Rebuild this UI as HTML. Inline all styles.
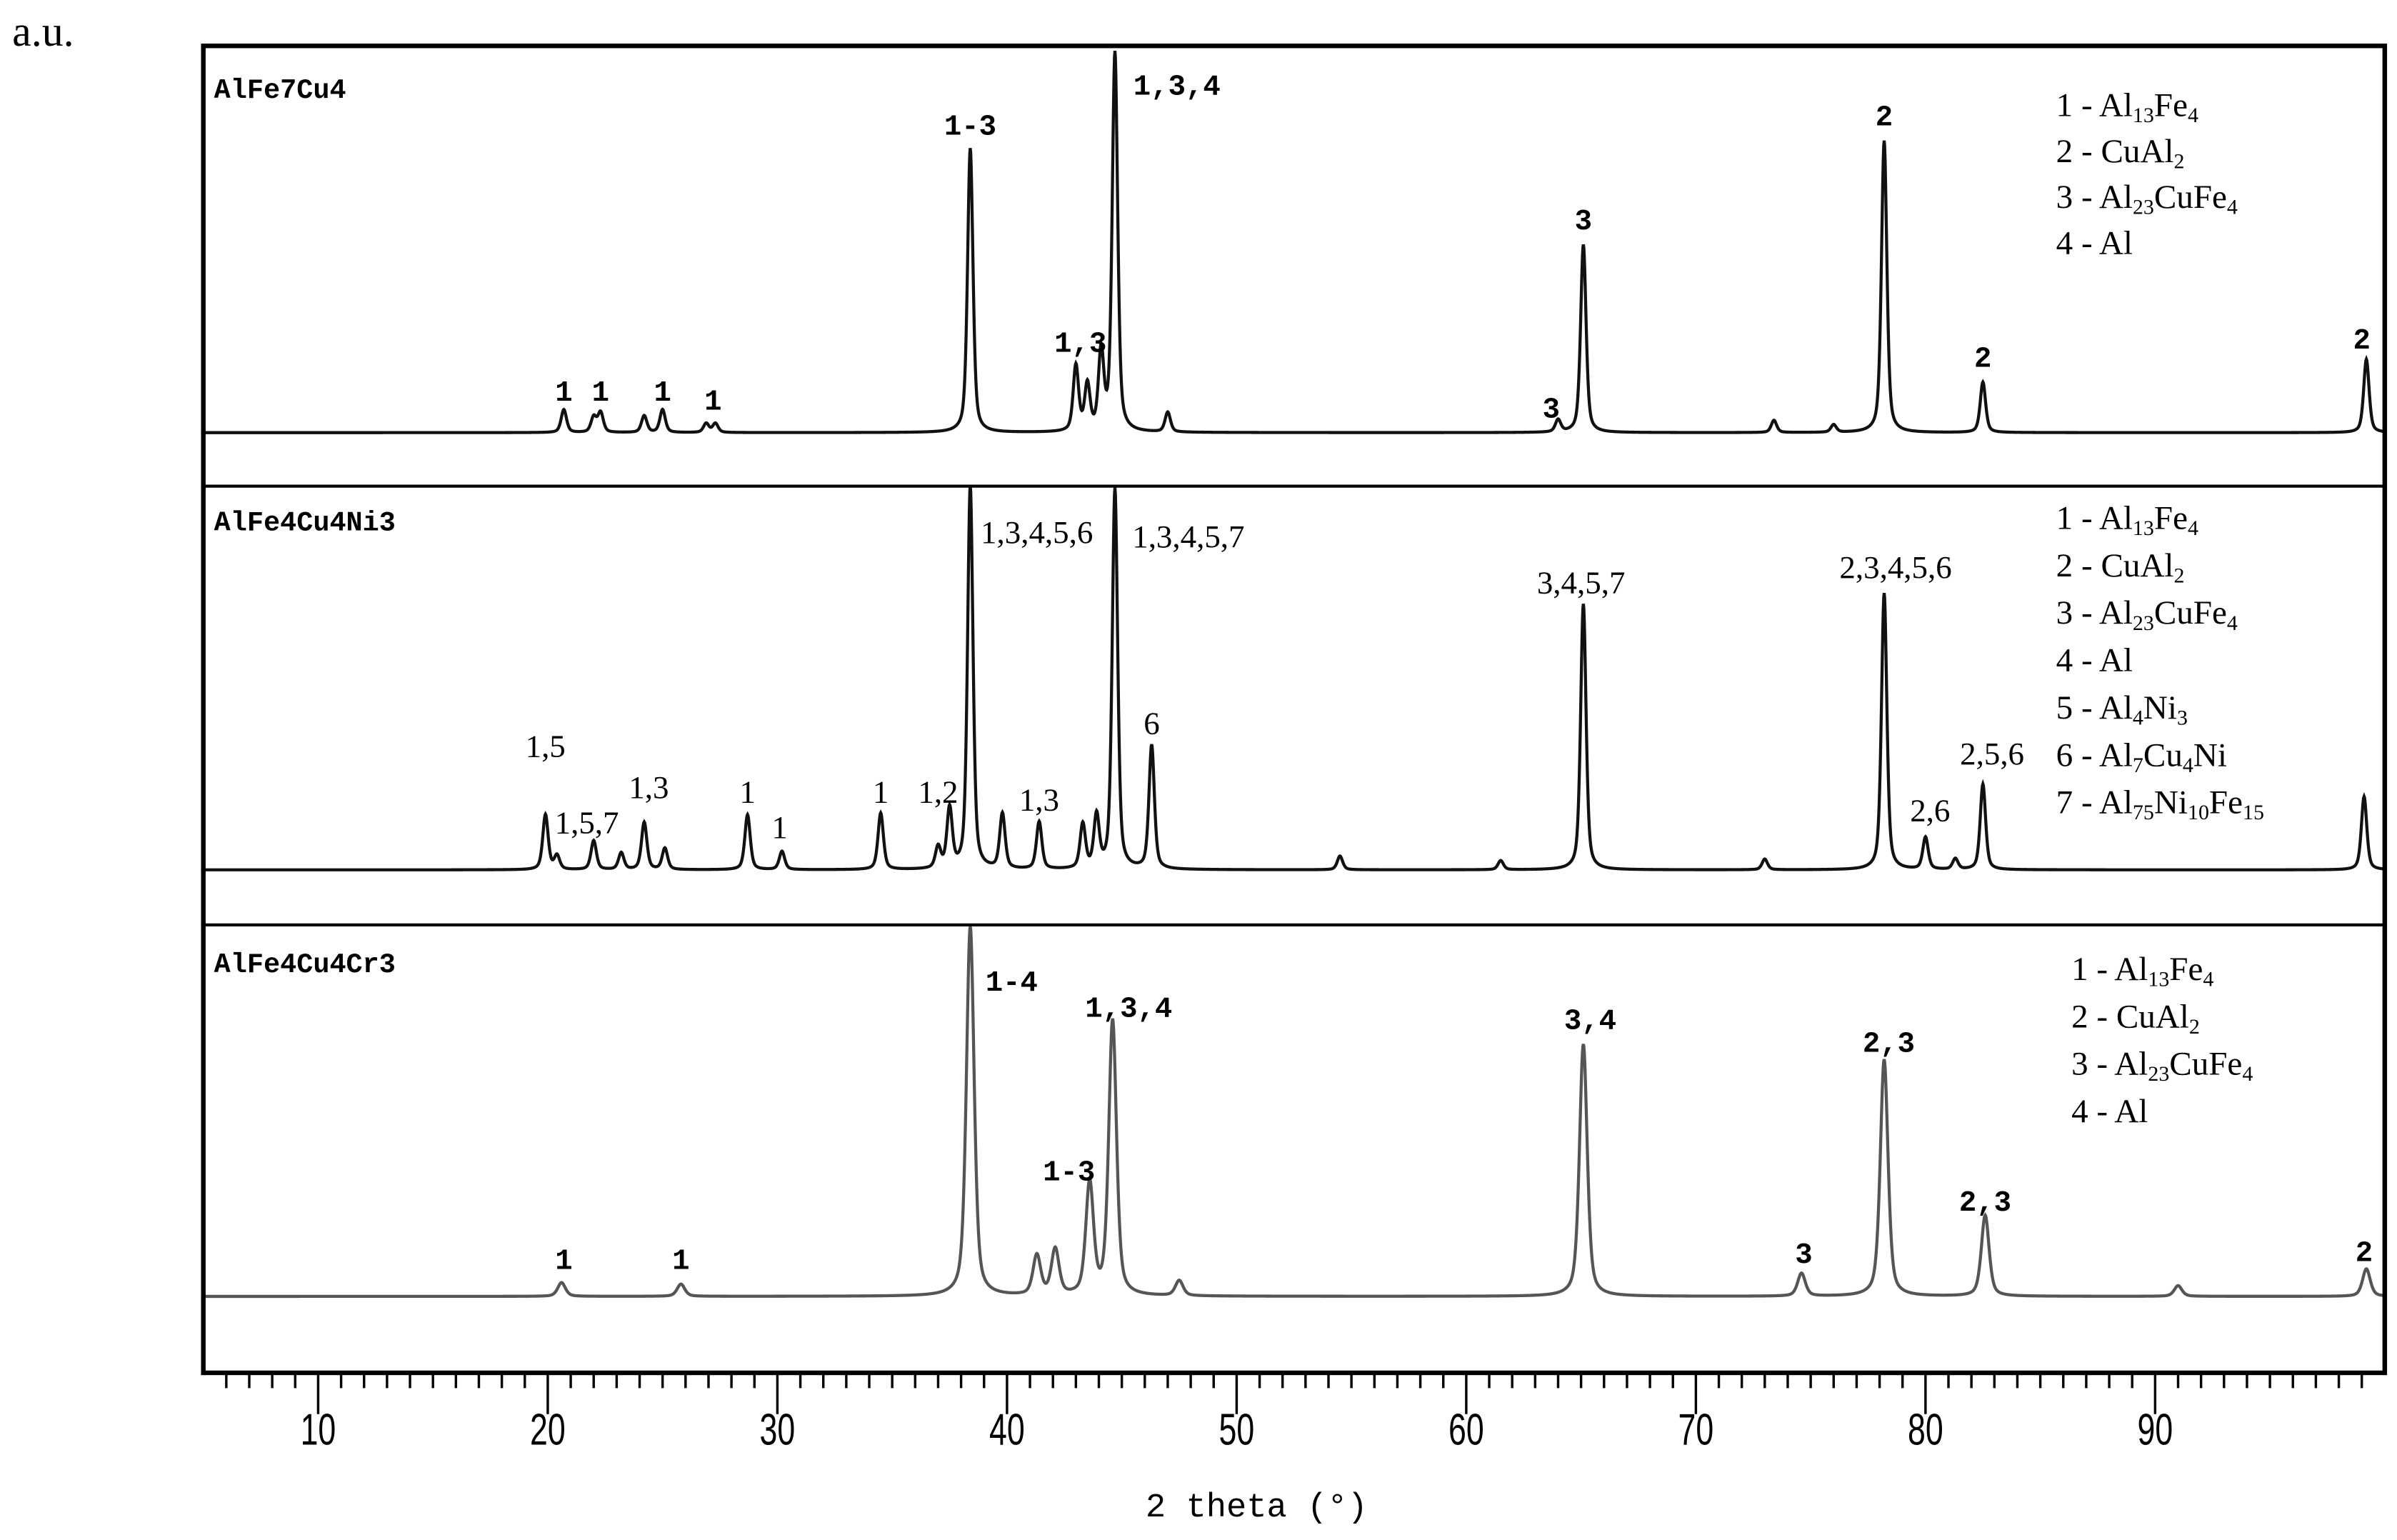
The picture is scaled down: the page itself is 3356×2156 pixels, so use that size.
<!DOCTYPE html>
<html><head><meta charset="utf-8"><style>
html,body{margin:0;padding:0;background:#fff;}
svg{display:block;}
.mono{font-family:"Liberation Mono",monospace;font-weight:bold;}
.ser{font-family:"Liberation Serif",serif;}
.tick{font-family:"Liberation Sans",sans-serif;}
</style></head><body>
<svg id="chart" width="3356" height="2156" viewBox="0 0 1568 1007.35" xmlns="http://www.w3.org/2000/svg">
<rect x="0" y="0" width="1568" height="1008" fill="#fff"/>
<text class="ser" x="8" y="30" font-size="28">a.u.</text>
<g id="plot"></g>
<text x="822" y="992" font-size="22" text-anchor="middle" font-family="Liberation Mono, monospace">2 theta (°)</text>
</svg>
<script>
// ---- data ----
const xTicks = [10,20,30,40,50,60,70,80,90];
const p1Pos = [20.7,22.0,22.3,24.2,25.0,26.9,27.3,38.4,43.0,43.5,44.1,44.7,47.0,64.0,65.1,73.4,76.0,78.2,82.5,99.2];
const p1Int = [15,10,13,11,15,6,6,186,43,30,51,248,13,8,123,8,5,191,33,48];
const p2Pos = [19.9,20.4,22.0,23.2,24.2,25.1,28.7,30.2,34.5,37.0,37.5,38.4,39.8,41.4,43.3,43.9,44.7,46.3,54.5,61.5,65.1,73.0,78.2,80.0,81.3,82.5,99.1];
const p2Int = [36,9,19,11,31,14,36,12,37,14,39,251,36,31,29,34,249,81,9,6,174,7,181,21,7,56,48];
const p3Pos = [20.6,25.8,38.4,41.3,42.1,43.6,44.6,47.5,65.1,74.6,78.2,82.6,91.0,99.2];
const p3Int = [9,8,242,26,30,73,180,10,165,15,155,53,7,18];
const ann1Txt = ["1","1","1","1","1-3","1,3","1,3,4","3","3","2","2","2"];
const ann1Pos = [20.7,22.3,25.0,27.2,38.4,43.2,47.4,63.7,65.1,78.2,82.5,99.0];
const ann1Lvl = [21,21,21,15,195,53,221,10,133,201,43,55];
const ann2Txt = ["1,5","1,5,7","1,3","1","1","1","1,2","1,3","1,3,4,5,6","1,3,4,5,7","6","3,4,5,7","2,3,4,5,6","2,6","2,5,6"];
const ann2Pos = [19.9,21.7,24.4,28.7,30.1,34.5,37.0,41.4,41.3,47.9,46.3,65.0,78.7,80.2,82.9];
const ann2Lvl = [74,24,47,44,21,44,44,39,214,211,89,181,191,32,69];
const ann3Txt = ["1","1","1-4","1,3,4","1-3","3,4","2,3","2,3","3","2"];
const ann3Pos = [20.7,25.8,40.2,45.3,42.7,65.4,78.4,82.6,74.7,99.1];
const ann3Lvl = [18,18,200,183,76,175,160,56,22,23];
const legA = ["1 - Al<tspan font-size='14' dy='4'>13</tspan><tspan dy='-4'>Fe</tspan><tspan font-size='14' dy='4'>4</tspan>","2 - CuAl<tspan font-size='14' dy='4'>2</tspan>","3 - Al<tspan font-size='14' dy='4'>23</tspan><tspan dy='-4'>CuFe</tspan><tspan font-size='14' dy='4'>4</tspan>","4 - Al"];
const legB = legA.concat(["5 - Al<tspan font-size='14' dy='4'>4</tspan><tspan dy='-4'>Ni</tspan><tspan font-size='14' dy='4'>3</tspan>","6 - Al<tspan font-size='14' dy='4'>7</tspan><tspan dy='-4'>Cu</tspan><tspan font-size='14' dy='4'>4</tspan><tspan dy='-4'>Ni</tspan>","7 - Al<tspan font-size='14' dy='4'>75</tspan><tspan dy='-4'>Ni</tspan><tspan font-size='14' dy='4'>10</tspan><tspan dy='-4'>Fe</tspan><tspan font-size='14' dy='4'>15</tspan>"]);
// ---- layout ----
const L=133,R=1560,T=30,B=898;
const X = d => L + (d-5)*(R-L)/95;
const NS="http://www.w3.org/2000/svg";
const g=document.getElementById('plot');
function mk(tag,attrs){const e=document.createElementNS(NS,tag);for(const k in attrs)e.setAttribute(k,attrs[k]);g.appendChild(e);return e;}
function profile(pos,ints,w,d){let s=0;for(let i=0;i<pos.length;i++){const u=(d-pos[i])/w;s+=ints[i]*(0.5/(1+u*u)+0.5*Math.exp(-u*u*0.7));}return s;}
function series(pos,ints,base,w,color,name,sw){
  let dstr="";
  for(let d=5;d<=99.95;d+=0.02){const y=Math.max(base-profile(pos,ints,w,d),base-290);dstr+=(dstr?"L":"M")+X(d).toFixed(2)+","+y.toFixed(2);}
  const p=mk('path',{d:dstr,fill:'none',stroke:color,'stroke-width':sw});
  
  
}
series(p1Pos,p1Int,283,0.14,'#111','series-alfe7cu4',2);
series(p2Pos,p2Int,569,0.14,'#111','series-alfe4cu4ni3',2);
series(p3Pos,p3Int,848,0.2,'#555','series-alfe4cu4cr3',2);
function annot(txt,pos,lvl,base,cls,name,size){
  for(let i=0;i<txt.length;i++){
    const t=mk('text',{x:X(pos[i]),y:base-lvl[i],'text-anchor':'middle','font-size':size,class:cls});
    t.textContent=txt[i];
    
    
  }
}
annot(ann1Txt,ann1Pos,ann1Lvl,283,'mono','peak-label-p1',19);
annot(ann2Txt,ann2Pos,ann2Lvl,569,'ser','peak-label-p2',21);
annot(ann3Txt,ann3Pos,ann3Lvl,848,'mono','peak-label-p3',19);
// frame
mk('rect',{x:L,y:T,width:R-L,height:B-T,fill:'none',stroke:'#000','stroke-width':3});
mk('line',{x1:L,y1:318,x2:R,y2:318,stroke:'#000','stroke-width':2});
mk('line',{x1:L,y1:605,x2:R,y2:605,stroke:'#000','stroke-width':2});
// panel names
[["AlFe7Cu4",64],["AlFe4Cu4Ni3",347],["AlFe4Cu4Cr3",636]].forEach((a,i)=>{
  const t=mk('text',{x:140,y:a[1],'font-size':18,class:'mono'});t.textContent=a[0];
  
  
});
// legends
function legend(items,x,y0,dy){items.forEach((s,i)=>{const t=mk('text',{x:x,y:y0+i*dy,'font-size':22,class:'ser'});t.innerHTML=s;
  
  });}
legend(legA,1345,76,30);
legend(legB,1345,346,31);
legend(legA,1355,641,31);
// ticks
for(let d=6;d<=99;d++){
  const major=d%10===0;
  const l=mk('line',{x1:X(d),y1:B,x2:X(d),y2:B+(major?27:10),stroke:'#000','stroke-width':1.6});
  
  
}
xTicks.forEach(v=>{const t=mk('text',{x:X(v),y:945,'text-anchor':'middle','font-size':29,class:'tick',transform:`translate(${X(v)},0) scale(0.72,1) translate(${-X(v)},0)`});t.textContent=v;
  
  });
</script>
</body></html>
